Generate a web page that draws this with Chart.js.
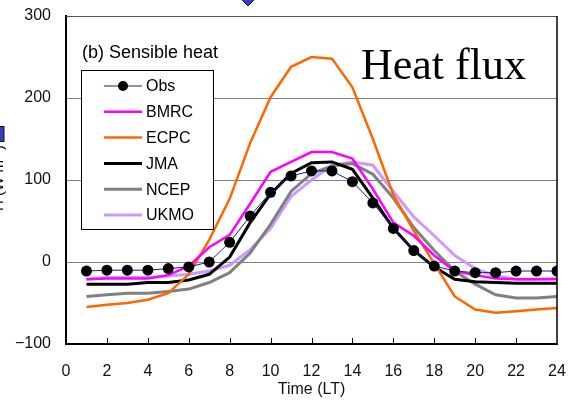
<!DOCTYPE html>
<html>
<head>
<meta charset="utf-8">
<script src="https://cdn.jsdelivr.net/npm/chart.js@4.4.1/dist/chart.umd.min.js"></script>
<style>
    body { margin: 0; background: #fff; }
    #heatChart { display: block; }
</style>
</head>
<body>
<canvas id="heatChart" width="573" height="403"></canvas>
<script>
// Sensible heat flux - diurnal cycle

const hours = [1, 2, 3, 4, 5, 6, 7, 8, 9, 10, 11, 12, 13, 14, 15, 16, 17, 18, 19, 20, 21, 22, 23, 24];
const obsValues  = [-11, -10, -10, -10, -8, -6, 0, 24, 56, 85, 105, 111, 111, 98, 72, 41, 14, -5, -11, -13, -13, -11, -11, -11];
const bmrcValues = [-21, -20, -20, -20, -16, -5, 18, 33, 71, 110, 122, 134, 134, 126, 89, 48, 32, 8, -11, -16, -20, -21, -21, -21];
const ecpcValues = [-55, -52, -50, -46, -38, -15, 27, 77, 145, 201, 238, 250, 248, 213, 150, 82, 38, -2, -42, -58, -62, -60, -58, -56];
const jmaValues  = [-27, -27, -27, -25, -25, -22, -15, 6, 48, 83, 108, 121, 122, 113, 78, 41, 14, -6, -21, -24, -25, -26, -26, -26];
const ncepValues = [-42, -40, -38, -38, -36, -33, -25, -13, 11, 46, 86, 108, 117, 120, 107, 78, 42, 14, -11, -27, -40, -44, -44, -42];
const ukmoValues = [-21, -19, -19, -19, -17, -15, -11, -4, 15, 41, 80, 100, 118, 122, 118, 86, 55, 32, 8, -8, -17, -21, -21, -20];

const seriesNames = ['Obs', 'BMRC', 'ECPC', 'JMA', 'NCEP', 'UKMO'];
const xTicks = [0, 2, 4, 6, 8, 10, 12, 14, 16, 18, 20, 22, 24];
const yTicks = [-100, 0, 100, 200, 300];
const gridValues = [0, 100, 200];

const FONT = '"Liberation Sans", Arial, sans-serif';

function toPoints(values) {
    return values.map((v, i) => ({ x: hours[i], y: v }));
}

// Extra drawing: legend box, titles, inner x ticks, cropped bits
const decorPlugin = {
    id: 'decor',
    afterDatasetsDraw(chart) {
        const ctx = chart.ctx;
        const area = chart.chartArea;
        const xs = chart.scales.x;

        ctx.save();

        // x tick marks pointing inward
        ctx.strokeStyle = '#000';
        ctx.lineWidth = 1;
        xTicks.forEach(t => {
            if (t === 0 || t === 24) return;
            const px = Math.round(xs.getPixelForValue(t)) + 0.5;
            ctx.beginPath();
            ctx.moveTo(px, area.bottom);
            ctx.lineTo(px, area.bottom - 6);
            ctx.stroke();
        });

        // legend box
        const bx = 81, by = 70, bw = 132, bh = 159;
        ctx.fillStyle = '#fff';
        ctx.fillRect(bx, by, bw, bh);
        ctx.strokeStyle = '#000';
        ctx.lineWidth = 1;
        ctx.strokeRect(bx + 0.5, by + 0.5, bw, bh);

        ctx.font = '16px ' + FONT;
        ctx.textBaseline = 'middle';
        ctx.textAlign = 'left';
        chart.data.datasets.forEach((ds, i) => {
            const y = 86 + i * 25.8;
            ctx.strokeStyle = ds.borderColor;
            ctx.lineWidth = ds.borderWidth;
            ctx.beginPath();
            ctx.moveTo(104, y);
            ctx.lineTo(142, y);
            ctx.stroke();
            if (ds.pointRadius > 0) {
                ctx.fillStyle = ds.pointBackgroundColor;
                ctx.beginPath();
                ctx.arc(123, y, 5, 0, Math.PI * 2);
                ctx.fill();
            }
            ctx.fillStyle = '#000';
            ctx.fillText(ds.label, 146, y + 1);
        });

        // panel label
        ctx.font = '18px ' + FONT;
        ctx.fillStyle = '#000';
        ctx.textBaseline = 'middle';
        ctx.fillText('(b) Sensible heat', 82, 53);

        // big title
        ctx.font = '44px "Liberation Serif", "Times New Roman", serif';
        ctx.textBaseline = 'alphabetic';
        ctx.fillText('Heat flux', 361, 79);

        // cropped y axis title at left edge
        ctx.save();
        ctx.translate(3, 178);
        ctx.rotate(-Math.PI / 2);
        ctx.font = '15px ' + FONT;
        ctx.textAlign = 'center';
        ctx.fillStyle = '#000';
        ctx.fillText('H (W m\u207B\u00B2)', 0, 0);
        ctx.restore();

        // cropped marker bits from neighbouring panel
        ctx.fillStyle = '#3a3ac8';
        ctx.strokeStyle = '#111';
        ctx.lineWidth = 1;
        ctx.fillRect(-10, 126, 14, 16);
        ctx.strokeRect(-10, 126.5, 14, 15);
        ctx.beginPath();
        ctx.moveTo(242, 0);
        ctx.lineTo(248, 6);
        ctx.lineTo(254, 0);
        ctx.lineTo(248, -6);
        ctx.closePath();
        ctx.fill();
        ctx.stroke();

        ctx.restore();
    },
    afterDraw(chart) {
        const ctx = chart.ctx;
        const area = chart.chartArea;
        ctx.save();
        // top and right frame
        ctx.strokeStyle = '#555';
        ctx.lineWidth = 1;
        ctx.beginPath();
        ctx.moveTo(area.left, area.top + 0.5);
        ctx.lineTo(area.right, area.top + 0.5);
        ctx.stroke();
        ctx.strokeStyle = '#000';
        ctx.lineWidth = 1.5;
        ctx.beginPath();
        ctx.moveTo(area.right, area.top);
        ctx.lineTo(area.right, area.bottom);
        ctx.stroke();
        ctx.restore();
    }
};

// Initialize Chart
document.addEventListener('DOMContentLoaded', function() {
    const ctx = document.getElementById('heatChart');

    const colors = ['#1a1a8c', '#ff00ff', '#ff6600', '#000000', '#808080', '#cc99ff'];
    const widths = [1, 2.5, 2.5, 3, 3, 3];
    const values = [obsValues, bmrcValues, ecpcValues, jmaValues, ncepValues, ukmoValues];

    const datasets = values.map((vals, i) => ({
        label: seriesNames[i],
        data: toPoints(vals),
        borderColor: colors[i],
        borderWidth: widths[i],
        pointRadius: i === 0 ? 5.5 : 0,
        pointBackgroundColor: '#000',
        pointBorderWidth: 0,
        tension: 0,
        fill: false
    }));

    new Chart(ctx, {
        type: 'line',
        data: { datasets: datasets },
        options: {
            responsive: false,
            animation: false,
            layout: { padding: { top: 16, right: 16, left: 0, bottom: 0 } },
            plugins: {
                legend: { display: false },
                tooltip: { enabled: false }
            },
            scales: {
                x: {
                    type: 'linear',
                    min: 0,
                    max: 24,
                    afterBuildTicks: scale => { scale.ticks = xTicks.map(v => ({ value: v })); },
                    afterFit: scale => {
                        scale.height = 59;
                        scale.paddingLeft = 0;
                        scale.paddingRight = 0;
                    },
                    grid: { display: false, drawTicks: false },
                    border: { color: '#000', width: 2 },
                    ticks: {
                        font: { size: 16, family: FONT },
                        color: '#111',
                        padding: 18,
                        maxRotation: 0
                    },
                    title: {
                        display: true,
                        text: 'Time (LT)',
                        font: { size: 16, family: FONT },
                        color: '#111',
                        padding: { top: 5 }
                    }
                },
                y: {
                    type: 'linear',
                    min: -100,
                    max: 300,
                    afterBuildTicks: scale => { scale.ticks = yTicks.map(v => ({ value: v })); },
                    afterFit: scale => {
                        scale.width = 66;
                        scale.paddingTop = 0;
                        scale.paddingBottom = 0;
                    },
                    grid: {
                        drawTicks: false,
                        color: c => gridValues.includes(c.tick.value) ? '#808080' : 'rgba(0,0,0,0)',
                        lineWidth: 1
                    },
                    border: { color: '#000', width: 2 },
                    ticks: {
                        font: { size: 16, family: FONT },
                        color: '#111',
                        padding: 15,
                        callback: v => v < 0 ? '\u2212' + Math.abs(v) : String(v)
                    }
                }
            }
        },
        plugins: [decorPlugin]
    });
});
</script>
</body>
</html>
